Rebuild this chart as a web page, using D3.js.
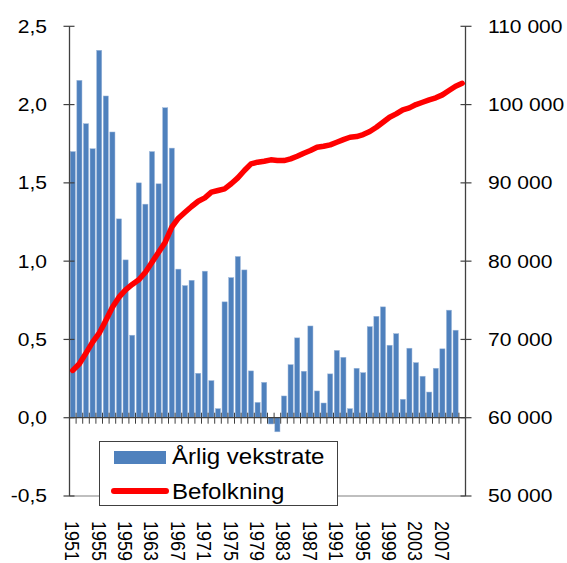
<!DOCTYPE html>
<html>
<head>
<meta charset="utf-8">
<script src="https://cdn.jsdelivr.net/npm/d3@7"></script>
<style>
  html, body { margin: 0; padding: 0; background: #fff; }
  svg { display: block; font-family: "Liberation Sans", Arial, sans-serif; }
</style>
</head>
<body>
<svg id="chart" width="567" height="563"></svg>
<script>
const years = d3.range(1951, 2011);
const growth = [1.70, 2.155, 1.878, 1.718, 2.347, 2.055, 1.825, 1.27, 1.008, 0.527,
  1.50, 1.364, 1.70, 1.494, 1.98, 1.722, 0.949, 0.844, 0.878, 0.284,
  0.936, 0.237, 0.058, 0.74, 0.895, 1.03, 0.944, 0.299, 0.098, 0.226,
  -0.04, -0.09, 0.139, 0.339, 0.51, 0.297, 0.586, 0.171, 0.094, 0.28,
  0.43, 0.386, 0.058, 0.316, 0.288, 0.582, 0.648, 0.708, 0.463, 0.537,
  0.118, 0.444, 0.352, 0.265, 0.164, 0.316, 0.44, 0.687, 0.559, null];
const population = [66040, 66890, 68250, 69650, 70800, 72420, 74120, 75400, 76340, 77020,
  77620, 78590, 79870, 81140, 82420, 84340, 85490, 86250, 86980, 87650,
  88090, 88810, 89020, 89240, 89880, 90640, 91580, 92430, 92640, 92770,
  92940, 92850, 92850, 93070, 93400, 93790, 94130, 94550, 94680, 94860,
  95190, 95530, 95830, 95920, 96170, 96560, 97100, 97740, 98380, 98810,
  99330, 99580, 100000, 100300, 100600, 100860, 101240, 101790, 102340, 102720];
const leftTicks = [-0.5, 0, 0.5, 1.0, 1.5, 2.0, 2.5];
const leftTickLabels = ["-0,5", "0,0", "0,5", "1,0", "1,5", "2,0", "2,5"];
const rightTicks = [50000, 60000, 70000, 80000, 90000, 100000, 110000];
const rightTickLabels = ["50 000", "60 000", "70 000", "80 000", "90 000", "100 000", "110 000"];
const yearLabels = d3.range(1951, 2010, 4);
const seriesNames = ["Årlig vekstrate", "Befolkning"];

const svg = d3.select("#chart");
const X0 = 69.5, X1 = 465.5, YT = 26.3, YB = 496;
const sx = 1.17; // horizontal stretch of glyphs

const x = d3.scaleBand().domain(years).range([X0, X1]).paddingInner(0.22).paddingOuter(0.11);
const yL = d3.scaleLinear().domain([-0.5, 2.5]).range([YB, YT]);
const yR = d3.scaleLinear().domain([50000, 110000]).range([YB, YT]);
const axisColor = "#404040";

// bottom border line
svg.append("line").attr("x1", X0).attr("x2", X1).attr("y1", YB).attr("y2", YB)
  .attr("stroke", "#808080").attr("stroke-width", 1.2);

// bars
svg.append("g").selectAll("rect")
  .data(years.map((yr, i) => ({yr, v: growth[i]})).filter(d => d.v !== null))
  .join("rect")
  .attr("x", d => x(d.yr))
  .attr("width", x.bandwidth())
  .attr("y", d => yL(Math.max(0, d.v)))
  .attr("height", d => Math.abs(yL(d.v) - yL(0)))
  .attr("fill", "#4F81BD")
  .attr("stroke", "#9fb9dc").attr("stroke-width", 0.5);

// left axis
svg.append("line").attr("x1", X0).attr("x2", X0).attr("y1", YT).attr("y2", YB)
  .attr("stroke", axisColor).attr("stroke-width", 1.3);
svg.append("g").selectAll("line").data(leftTicks).join("line")
  .attr("x1", X0 - 6).attr("x2", X0 + 5)
  .attr("y1", d => yL(d)).attr("y2", d => yL(d))
  .attr("stroke", axisColor).attr("stroke-width", 1.2);
svg.append("g").selectAll("text").data(leftTicks).join("text")
  .attr("transform", d => `translate(47,${yL(d)}) scale(${sx},1)`)
  .attr("text-anchor", "end").attr("dy", "0.36em")
  .attr("font-size", 18).attr("fill", "#000")
  .text((d, i) => leftTickLabels[i]);

// right axis
svg.append("line").attr("x1", X1).attr("x2", X1).attr("y1", YT).attr("y2", YB)
  .attr("stroke", axisColor).attr("stroke-width", 1.3);
svg.append("g").selectAll("line").data(rightTicks).join("line")
  .attr("x1", X1 - 5).attr("x2", X1 + 6)
  .attr("y1", d => yR(d)).attr("y2", d => yR(d))
  .attr("stroke", axisColor).attr("stroke-width", 1.2);
svg.append("g").selectAll("text").data(rightTicks).join("text")
  .attr("transform", d => `translate(488,${yR(d)}) scale(${sx},1)`)
  .attr("text-anchor", "start").attr("dy", "0.36em")
  .attr("font-size", 18).attr("fill", "#000")
  .text((d, i) => rightTickLabels[i]);

// category axis at zero
const y0 = yL(0);
svg.append("line").attr("x1", X0).attr("x2", X1).attr("y1", y0).attr("y2", y0)
  .attr("stroke", axisColor).attr("stroke-width", 1.3);
const step = x.step();
const bounds = d3.range(years.length + 1).map(i => X0 + i * step);
svg.append("g").selectAll("line").data(bounds).join("line")
  .attr("x1", d => d).attr("x2", d => d)
  .attr("y1", y0 - 5).attr("y2", y0 + 6)
  .attr("stroke", axisColor).attr("stroke-width", 1);

// year labels
svg.append("g").selectAll("text").data(yearLabels).join("text")
  .attr("transform", d => `translate(${x(d) + x.bandwidth() / 2},521) scale(${sx},1) rotate(90)`)
  .attr("text-anchor", "start").attr("dy", "0.36em")
  .attr("font-size", 18).attr("fill", "#000")
  .text(d => d);

// population line
const line = d3.line()
  .x((d, i) => x(years[i]) + x.bandwidth() / 2)
  .y(d => yR(d));
svg.append("path").datum(population)
  .attr("d", line)
  .attr("fill", "none").attr("stroke", "#FF0000")
  .attr("stroke-width", 5.5).attr("stroke-linejoin", "round").attr("stroke-linecap", "round");

// legend
const lg = svg.append("g");
lg.append("rect").attr("x", 99.5).attr("y", 441.5).attr("width", 238).attr("height", 64)
  .attr("fill", "#fff").attr("stroke", axisColor).attr("stroke-width", 1);
lg.append("rect").attr("x", 114).attr("y", 451).attr("width", 52).attr("height", 13)
  .attr("fill", "#4F81BD");
lg.append("line").attr("x1", 114).attr("x2", 166).attr("y1", 491).attr("y2", 491)
  .attr("stroke", "#FF0000").attr("stroke-width", 6).attr("stroke-linecap", "round");
lg.append("text").attr("transform", `translate(172,464) scale(1.12,1)`)
  .attr("font-size", 21.5).attr("fill", "#000").text(seriesNames[0]);
lg.append("text").attr("transform", `translate(172,498.5) scale(1.12,1)`)
  .attr("font-size", 21.5).attr("fill", "#000").text(seriesNames[1]);
</script>
</body>
</html>
